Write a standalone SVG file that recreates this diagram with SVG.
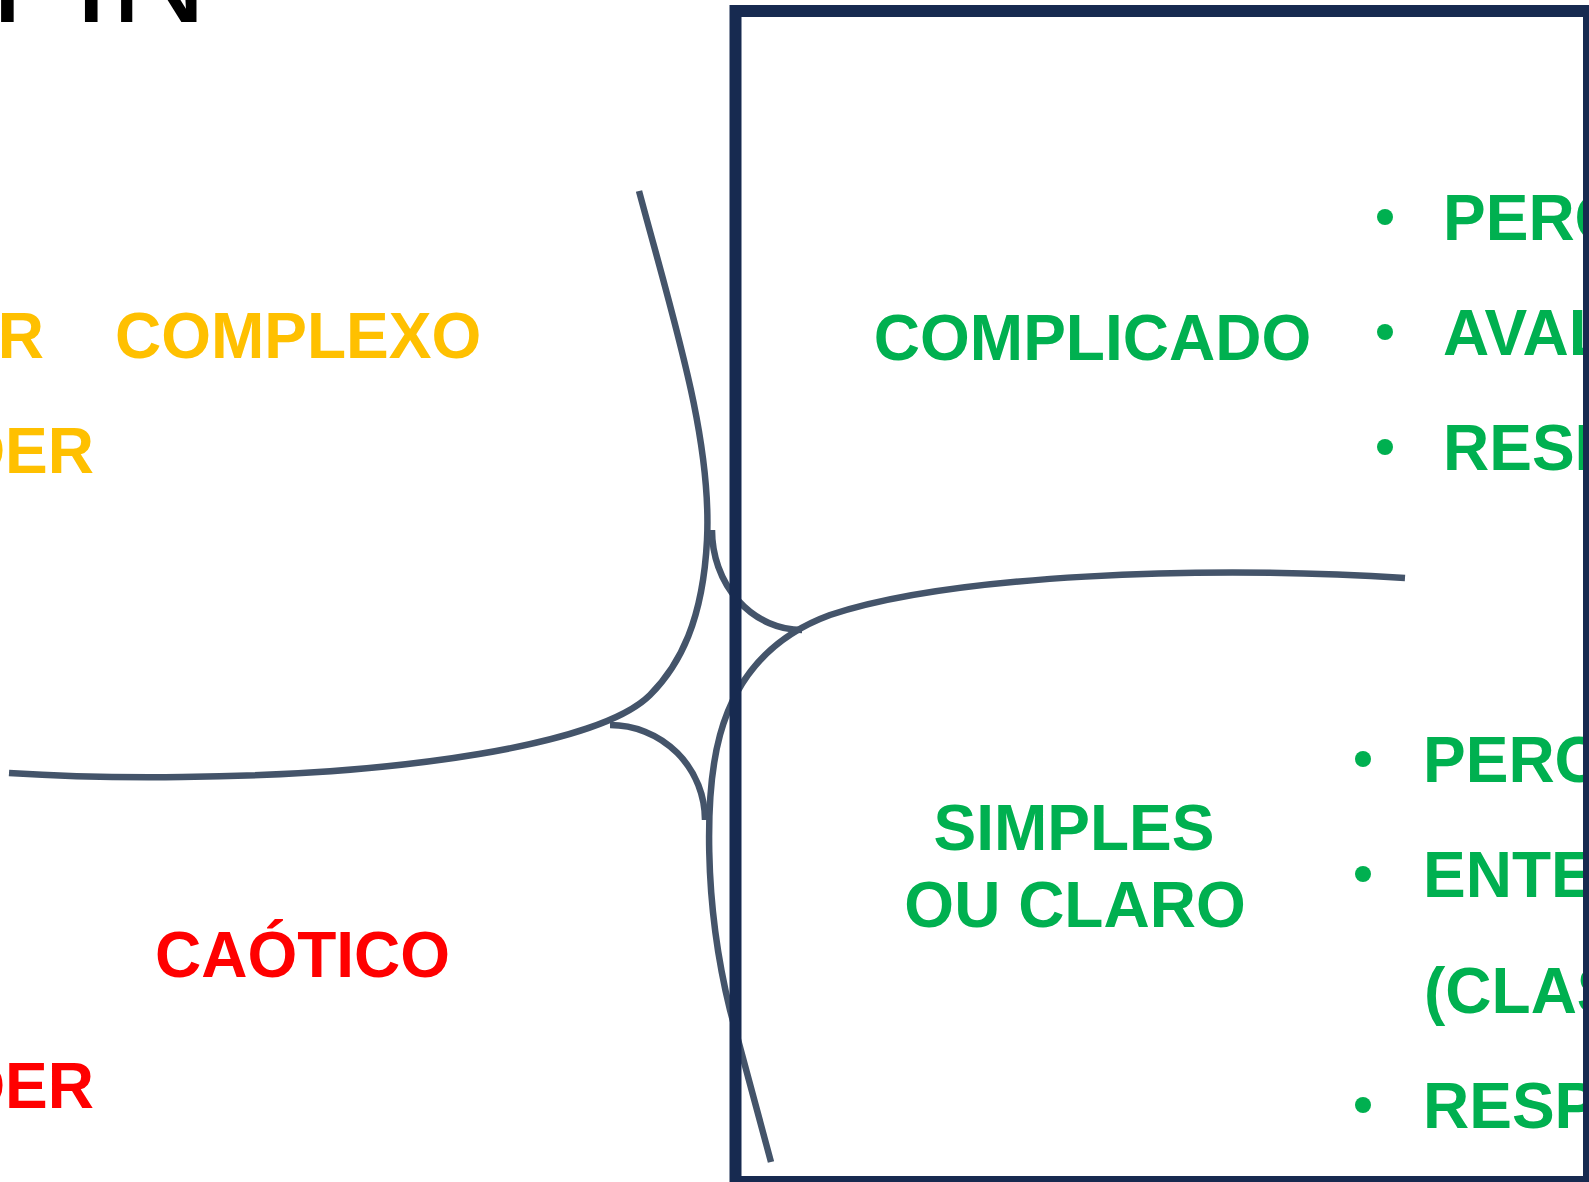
<svg xmlns="http://www.w3.org/2000/svg" width="1589" height="1182" viewBox="0 0 1589 1182">
<style>
  .t { font-family: "Liberation Sans", Arial, sans-serif; font-weight: bold; font-size: 64px; }
  .y { fill: #FFC000; }
  .g { fill: #00B050; }
  .r { fill: #FF0000; }
  .curve { fill: none; stroke: #44546A; stroke-width: 6.5; }
  .frame { fill: none; stroke: #172A50; stroke-width: 12; }
</style>
<rect x="0" y="0" width="1589" height="1182" fill="#FFFFFF"/>
<g id="title">
  <text x="-10" y="21.7" font-family="'Liberation Sans', Arial, sans-serif" font-size="135" fill="#000000">FIN</text>
</g>
<g id="connectors">
  <path class="curve" d="M639,191 C675,325 712,440 707,540 C703,620 680,665 650,695 C600,745 400,775 182,777 C100,778 40,775 9,773"/>
  <path class="curve" d="M1405,578 C1200,565 950,575 830,615 C770,637 735,680 720,735 C705,790 703,900 730,1010 L771,1162"/>
  <path class="curve" d="M712,530 A90,100 0 0 0 802,630"/>
  <path class="curve" d="M610,725 A95,95 0 0 1 705,820"/>
</g>
<g id="complexo">
  <text class="t y" x="44" y="358" text-anchor="end">R</text>
  <text class="t y" x="115" y="358">COMPLEXO</text>
  <text class="t y" x="94" y="473" text-anchor="end">DER</text>
</g>
<g id="caotico">
  <text class="t r" x="155" y="977">CAÓTICO</text>
  <text class="t r" x="94" y="1108" text-anchor="end">DER</text>
</g>
<g id="complicado">
  <text class="t g" x="1092.5" y="360" text-anchor="middle">COMPLICADO</text>
  <circle class="g" cx="1385" cy="217" r="8"/>
  <circle class="g" cx="1385" cy="332" r="8"/>
  <circle class="g" cx="1385" cy="447" r="8"/>
  <text class="t g" x="1443" y="240">PERC</text>
  <text class="t g" x="1443" y="355">AVAL</text>
  <text class="t g" x="1443" y="470">RESP</text>
</g>
<g id="simples">
  <text class="t g" x="1074" y="850" text-anchor="middle">SIMPLES</text>
  <text class="t g" x="1075" y="927" text-anchor="middle">OU CLARO</text>
  <circle class="g" cx="1363" cy="759" r="8"/>
  <circle class="g" cx="1363" cy="874" r="8"/>
  <circle class="g" cx="1363" cy="1105" r="8"/>
  <text class="t g" x="1423" y="782">PERC</text>
  <text class="t g" x="1423" y="897">ENTE</text>
  <text class="t g" x="1424" y="1013">(CLAS</text>
  <text class="t g" x="1423" y="1128">RESP</text>
</g>
<g id="frame">
  <rect class="frame" x="735.5" y="11" width="853.5" height="1171"/>
</g>
</svg>
